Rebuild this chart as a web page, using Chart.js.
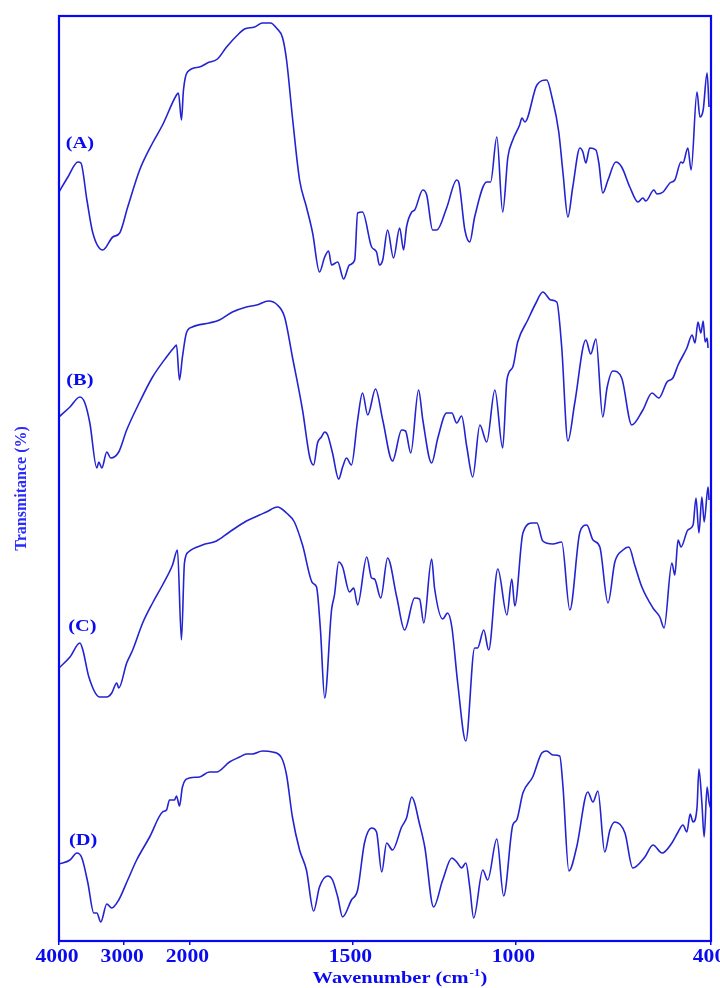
<!DOCTYPE html>
<html>
<head>
<meta charset="utf-8">
<script src="https://cdn.jsdelivr.net/npm/chart.js@4/dist/chart.umd.min.js"></script>
<style>
  html, body { margin: 0; padding: 0; background: #ffffff; }
  canvas { display: block; }
</style>
</head>
<body>
<canvas id="ftir" width="720" height="988"></canvas>
<script>
// FTIR spectra (A)-(D), stacked with vertical offsets; wavenumber in cm-1, transmittance in %
const wnA = [4000,3863,3710,3664,3572,3481,3328,3175,3069,2946,2763,2565,2412,2198,2168,2122,2091,2030,1969,1945,1914,1886,1846,1831,1800,1776,1751,1733,1714,1702,1684,1662,1641,1622,1601,1585,1573,1564,1545,1527,1509,1493,1484,1469,1441,1426,1417,1407,1392,1374,1355,1343,1334,1318,1309,1284,1272,1254,1241,1211,1180,1174,1155,1140,1125,1088,1076,1057,1039,1023,1008,987,980,971,934,904,888,867,854,839,824,802,793,784,772,753,744,732,716,692,674,649,624,609,600,575,566,547,526,511,492,486,471,461,443,434,424,412,406];
const tA = [74.9,76.4,77.9,77.8,74.1,70.8,69.1,70.4,70.8,73.4,77.1,79.8,81.6,84.6,84.8,82.1,85.1,86.9,87.4,87.8,88.2,89.4,90.8,91.2,91.4,91.8,91.8,91.3,90.3,88.1,82.4,76.1,73.4,70.8,66.9,68.4,69.0,67.6,67.9,66.2,67.6,68.1,72.8,72.9,69.4,68.9,67.6,68.1,71.1,68.3,71.3,69.1,71.4,72.9,73.1,75.1,74.6,71.1,71.1,73.3,76.1,75.9,71.1,69.9,72.4,75.9,75.9,80.4,72.9,78.4,80.1,81.6,82.3,81.9,85.6,86.1,84.4,80.9,76.8,72.4,75.4,79.3,78.9,77.8,79.3,79.1,77.8,74.8,76.1,77.9,77.4,75.4,73.9,74.3,74.0,75.1,74.7,74.9,75.8,76.1,77.9,77.8,79.3,77.1,84.9,82.4,83.1,86.8,83.4];

const wnB = [4000,3832,3679,3603,3527,3420,3389,3343,3267,3206,3084,2962,2763,2565,2351,2229,2198,2152,2107,2046,1991,1939,1908,1868,1825,1794,1757,1730,1708,1684,1653,1631,1619,1607,1595,1585,1576,1561,1542,1530,1518,1503,1484,1469,1453,1429,1407,1377,1349,1337,1321,1297,1284,1257,1238,1211,1195,1180,1165,1149,1131,1109,1088,1063,1039,1026,1008,993,962,937,916,891,873,858,839,818,784,769,753,732,719,701,674,643,609,581,560,535,517,501,474,458,449,440,431,424,418,412,409];
const tB = [52.4,53.4,54.4,53.8,51.8,47.3,47.9,47.3,48.9,48.3,48.9,51.1,53.9,56.4,58.4,59.4,59.6,56.1,58.4,60.8,61.4,61.8,62.1,62.9,63.4,63.6,64.0,63.6,62.4,58.4,53.1,48.4,47.6,49.8,50.4,50.9,50.6,48.8,46.2,47.4,48.3,47.6,52.1,54.8,52.6,55.2,52.1,48.0,51.1,51.0,48.8,55.1,52.1,47.8,50.3,52.8,52.8,51.8,52.5,49.4,46.4,51.6,49.9,55.1,49.3,56.1,57.4,59.9,62.1,63.8,64.9,64.1,63.9,59.4,50.0,53.8,60.1,58.7,60.2,52.4,55.3,57.0,56.3,51.6,53.1,54.8,54.3,55.9,56.3,57.6,59.3,60.6,59.8,61.9,60.8,62.0,59.9,60.3,59.3];

const wnC = [4000,3832,3679,3634,3542,3374,3267,3191,3114,3084,2962,2870,2717,2565,2412,2259,2183,2122,2076,2015,1960,1917,1877,1825,1785,1764,1730,1702,1678,1653,1622,1610,1598,1585,1564,1555,1542,1530,1509,1496,1484,1456,1441,1432,1413,1392,1364,1340,1309,1294,1281,1257,1248,1223,1208,1195,1177,1152,1125,1116,1097,1082,1054,1026,1011,1002,977,947,934,916,885,858,833,802,781,762,741,716,695,670,652,634,612,578,557,544,520,511,501,492,471,455,446,437,428,421,409,406];
const tC = [27.3,28.4,29.8,29.1,26.4,24.4,24.4,24.8,25.8,25.3,27.8,29.1,31.8,33.8,35.6,37.6,39.1,30.1,37.8,38.9,39.6,40.0,40.9,42.0,42.6,42.9,43.4,42.8,41.9,39.6,35.8,35.4,31.1,24.3,33.1,34.6,37.9,37.4,34.9,35.3,33.6,38.4,36.3,36.2,34.3,38.3,34.4,31.1,34.3,34.2,31.8,38.2,35.3,32.2,32.8,31.4,25.8,20.0,29.3,29.3,31.1,29.1,37.2,32.6,36.2,33.5,40.8,41.8,41.8,40.0,39.7,39.9,33.1,40.9,41.6,40.1,39.4,33.8,37.9,39.1,39.4,37.6,35.4,33.3,32.4,31.3,37.8,36.6,40.1,39.4,41.1,41.6,44.3,40.8,44.4,41.9,45.4,44.1];

const wnD = [4000,3832,3725,3649,3557,3466,3420,3359,3267,3191,3084,2946,2809,2610,2412,2351,2305,2229,2198,2152,2107,2000,1969,1939,1917,1877,1846,1825,1807,1776,1745,1717,1702,1684,1662,1641,1619,1601,1576,1561,1545,1530,1503,1484,1463,1441,1426,1410,1395,1377,1349,1334,1318,1309,1297,1278,1251,1223,1195,1180,1165,1152,1140,1128,1100,1085,1057,1036,1008,996,977,947,919,904,885,864,854,836,812,778,762,747,726,710,695,664,640,603,578,550,520,501,486,474,464,455,443,437,428,421,412,406,400];
const tD = [7.7,8.1,8.8,8.3,5.8,2.8,2.8,1.9,3.7,3.3,4.1,6.1,8.1,10.4,12.9,13.1,14.1,14.1,14.5,13.5,15.4,16.3,16.4,16.9,16.9,17.9,18.4,18.7,18.7,19.0,18.9,18.3,16.6,12.4,9.1,7.1,3.0,5.4,6.5,6.1,4.4,2.4,4.1,5.1,9.8,11.3,10.9,6.9,9.8,9.1,11.4,12.3,14.4,13.8,12.1,9.4,3.4,6.1,8.3,7.9,7.3,7.8,5.4,2.3,7.1,6.1,10.2,4.5,11.6,12.1,14.8,16.4,18.8,19.0,18.6,18.5,15.4,7.0,9.4,14.9,13.9,15.0,8.9,11.1,11.9,10.8,7.3,8.4,9.6,8.8,9.8,10.9,11.6,10.9,12.7,11.9,13.3,17.2,13.8,10.4,15.4,13.9,13.2];

const tickWavenumbers = [4000, 3000, 2000, 1500, 1000, 400];
const traceNames = ['(A)', '(B)', '(C)', '(D)'];

// The wavenumber axis is compressed 5:1 above 2000 cm-1 (usual FTIR layout)
function toAxis(w) { return w >= 2000 ? (4000 - w) / 5 : 400 + (2000 - w); }

function series(wn, t) {
  const n = Math.min(wn.length, t.length);
  const pts = [];
  for (let i = 0; i < n; i++) pts.push({ x: toAxis(wn[i]), y: t[i] });
  return pts;
}

const LINE = '#2323d2';
const AXIS = '#0808f5';
const TEXT = '#0a0af0';
const SERIF = '"Liberation Serif", "Times New Roman", serif';
const STRETCH = 1.2;

function wideText(ctx, text, x, y, size, color, align) {
  ctx.save();
  ctx.font = 'bold ' + size + 'px ' + SERIF;
  ctx.fillStyle = color;
  ctx.textAlign = align || 'center';
  ctx.textBaseline = 'alphabetic';
  ctx.translate(x, y);
  ctx.scale(STRETCH, 1);
  ctx.fillText(text, 0, 0);
  ctx.restore();
}

// Frame, axis labels, titles and trace names
const decorations = {
  id: 'decorations',
  afterDraw(chart) {
    const { ctx, chartArea: a, scales } = chart;
    const xs = scales.x, ys = scales.y;

    ctx.save();
    ctx.strokeStyle = AXIS;
    ctx.lineWidth = 2.2;
    ctx.strokeRect(a.left, a.top, a.right - a.left, a.bottom - a.top);
    ctx.restore();

    // x tick labels
    tickWavenumbers.forEach(w => {
      const px = xs.getPixelForValue(toAxis(w)) - 2;
      wideText(ctx, String(w), px, a.bottom + 21, 18, TEXT, 'center');
    });

    // x title with superscript
    ctx.save();
    const main = 'Wavenumber (cm', sup = '-1', close = ')';
    ctx.font = 'bold 17px ' + SERIF;
    const wMain = ctx.measureText(main).width;
    const wClose = ctx.measureText(close).width;
    ctx.font = 'bold 11px ' + SERIF;
    const wSup = ctx.measureText(sup).width + 1;
    ctx.restore();
    const total = (wMain + wSup + wClose) * STRETCH;
    const cx = (a.left + a.right) / 2 + 15;
    let sx = cx - total / 2;
    const by = a.bottom + 42;
    wideText(ctx, main, sx, by, 17, TEXT, 'left');
    sx += wMain * STRETCH;
    wideText(ctx, sup, sx + 1, by - 7, 11, TEXT, 'left');
    sx += wSup * STRETCH;
    wideText(ctx, close, sx, by, 17, TEXT, 'left');

    // y title
    ctx.save();
    ctx.translate(22, (a.top + a.bottom) / 2 + 10);
    ctx.rotate(-Math.PI / 2);
    ctx.font = 'bold 16px ' + SERIF;
    ctx.fillStyle = '#2a2aff';
    ctx.textAlign = 'center';
    ctx.textBaseline = 'middle';
    ctx.fillText('Transmitance (%)', 0, 0);
    ctx.restore();

    // trace names
    const anchors = [
      { wn: 3680, t: 79.3 },
      { wn: 3680, t: 55.6 },
      { wn: 3640, t: 31.0 },
      { wn: 3630, t: 9.6 }
    ];
    traceNames.forEach((name, i) => {
      const px = xs.getPixelForValue(toAxis(anchors[i].wn));
      const py = ys.getPixelForValue(anchors[i].t);
      wideText(ctx, name, px, py, 17, TEXT, 'center');
    });
  }
};

const traces = [[wnA, tA], [wnB, tB], [wnC, tC], [wnD, tD]];

new Chart(document.getElementById('ftir'), {
  type: 'line',
  data: {
    datasets: traces.map((tr, i) => ({
      label: traceNames[i],
      data: series(tr[0], tr[1]),
      borderColor: LINE,
      borderWidth: 1.6,
      pointRadius: 0,
      fill: false,
      cubicInterpolationMode: 'monotone'
    }))
  },
  options: {
    responsive: false,
    animation: false,
    devicePixelRatio: 1,
    layout: { padding: { top: 16, right: 9, left: 0, bottom: 0 } },
    plugins: { legend: { display: false }, tooltip: { enabled: false } },
    scales: {
      x: {
        type: 'linear',
        min: 0,
        max: 2000,
        afterBuildTicks(scale) {
          scale.ticks = tickWavenumbers.map(w => ({ value: toAxis(w) }));
        },
        afterFit(scale) {
          scale.height = 47;
          scale.paddingLeft = 0;
          scale.paddingRight = 0;
        },
        ticks: { display: false },
        border: { display: false },
        grid: {
          display: true,
          drawOnChartArea: false,
          drawTicks: true,
          tickLength: 4,
          color: AXIS,
          lineWidth: 1.5
        }
      },
      y: {
        min: 0,
        max: 92.5,
        afterFit(scale) { scale.width = 59; },
        ticks: { display: false },
        border: { display: false },
        grid: { display: false }
      }
    }
  },
  plugins: [decorations]
});
</script>
</body>
</html>
